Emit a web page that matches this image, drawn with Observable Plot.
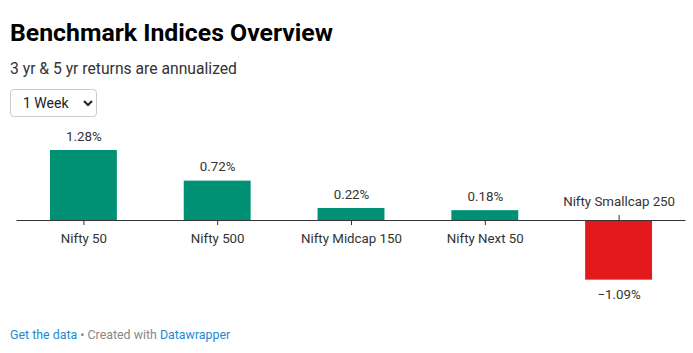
<!DOCTYPE html>
<html>
<head>
<meta charset="utf-8">
<script src="https://cdn.jsdelivr.net/npm/d3@7"></script>
<script src="https://cdn.jsdelivr.net/npm/@observablehq/plot@0.6"></script>
<style>
  html, body { margin: 0; padding: 0; background: #fff; }
  body { width: 693px; height: 353px; position: relative; font-family: Roboto, "Noto Sans", sans-serif; overflow: hidden; }
  .title { position: absolute; left: 10px; top: 18.5px; font-size: 24.8px; line-height: 28px; font-weight: 700; color: #000; white-space: nowrap; }
  .subtitle { position: absolute; left: 10px; top: 58.5px; font-size: 15.7px; line-height: 20px; color: #333; white-space: nowrap; }
  select { position: absolute; left: 10px; top: 89px; width: 87px; height: 28px; font-family: Roboto, sans-serif; font-size: 14px; color: #222; background: #fff; border: 1px solid #ccc; border-radius: 4px; padding: 0 0 0 8px; }
  #chart { position: absolute; left: 0; top: 120px; }
  .footer { position: absolute; left: 10px; top: 327px; font-size: 12.4px; line-height: 16px; color: #888; white-space: nowrap; }
  .footer a { color: #1d8ad2; text-decoration: none; }
</style>
</head>
<body>
<div class="title">Benchmark Indices Overview</div>
<div class="subtitle">3 yr &amp; 5 yr returns are annualized</div>
<select><option>1 Week</option></select>
<div id="chart"></div>
<div class="footer"><a href="#">Get the data</a> • Created with <a href="#">Datawrapper</a></div>
<script>
const categories = ["Nifty 50", "Nifty 500", "Nifty Midcap 150", "Nifty Next 50", "Nifty Smallcap 250"];
const values = [1.28, 0.72, 0.22, 0.18, -1.09];
const valueLabels = ["1.28%", "0.72%", "0.22%", "0.18%", "−1.09%"];

const data = categories.map((name, i) => ({ name, value: values[i], label: valueLabels[i] }));
const pos = data.filter(d => d.value >= 0);
const neg = data.filter(d => d.value < 0);

const plot = Plot.plot({
  width: 693,
  height: 190,
  marginLeft: 16.5,
  marginRight: 7.5,
  marginTop: 0,
  marginBottom: 0,
  style: { fontFamily: "Roboto, sans-serif", fontSize: "13.3px", color: "#333", overflow: "visible", background: "transparent" },
  x: { domain: categories, paddingInner: 0.5, paddingOuter: 0.25, round: false, axis: null },
  y: { domain: [-1.4, 1.6], range: [176.6, 12.5], axis: null },
  marks: [
    Plot.barY(pos, { x: "name", y: "value", fill: "#009175" }),
    Plot.barY(neg, { x: "name", y: "value", fill: "#e31a1c" }),
    Plot.ruleY([0], { stroke: "#333", strokeWidth: 1 }),
    Plot.ruleX(pos, { x: "name", y1: 0, y2: 0, insetTop: 0, insetBottom: -5, stroke: "#333" }),
    Plot.ruleX(neg, { x: "name", y1: 0, y2: 0, insetTop: -5, insetBottom: 0, stroke: "#333" }),
    Plot.text(pos, { x: "name", y: 0, text: "name", dy: 18, fill: "#333" }),
    Plot.text(neg, { x: "name", y: 0, text: "name", dy: -19, fill: "#333" }),
    Plot.text(pos, { x: "name", y: "value", text: "label", dy: -14, fill: "#333" }),
    Plot.text(neg, { x: "name", y: "value", text: "label", dy: 15, fill: "#333" })
  ]
});
document.getElementById("chart").appendChild(plot);
</script>
</body>
</html>
